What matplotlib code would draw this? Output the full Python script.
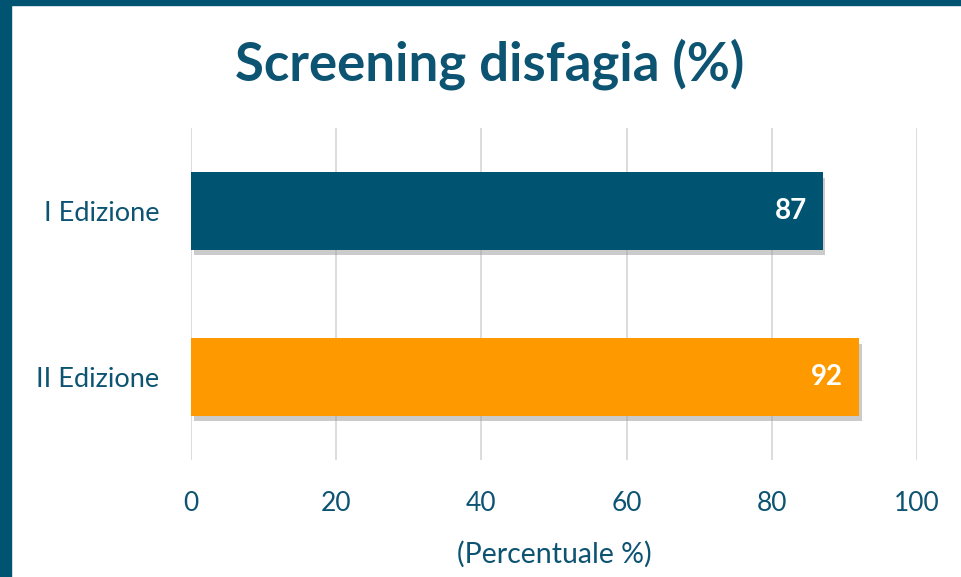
import matplotlib.pyplot as plt
import matplotlib.patheffects as pe

# data
categories = ['I Edizione', 'II Edizione']
values = [87, 92]
bar_colors = ['#005472', '#FF9900']
xticks = [0, 20, 40, 60, 80, 100]

txt = '#0d5473'
plt.rcParams['font.family'] = ['Lato', 'DejaVu Sans']

fig = plt.figure(figsize=(9.61, 5.77), dpi=100)
ax = fig.add_axes([0.1988, 0.2028, 0.7554, 0.5754])

pos = list(range(len(categories)))
shadow = [pe.SimplePatchShadow(offset=(2, -4), shadow_rgbFace='#999999', alpha=0.5), pe.Normal()]
bars = ax.barh(pos, values, height=0.465, color=bar_colors, path_effects=shadow, zorder=3)

for b, v in zip(bars, values):
    ax.text(b.get_width() - 2.2, b.get_y() + b.get_height() / 2, str(v),
            ha='right', va='center', color='white', fontsize=20, fontweight='bold', zorder=4)

ax.set_xlim(0, 100)
ax.set_ylim(1.5, -0.5)
ax.set_xticks(xticks)
ax.set_yticks(pos)
ax.set_yticklabels(categories)
ax.tick_params(axis='both', length=0, labelcolor=txt)
ax.tick_params(axis='x', pad=22, labelsize=19)
ax.tick_params(axis='y', pad=23, labelsize=19.5)
ax.grid(axis='x', color='#d9d9d9', linewidth=1.3, zorder=0)
for s in ax.spines.values():
    s.set_visible(False)

ax.set_xlabel('(Percentuale %)', fontsize=20.5, color=txt, labelpad=18)
fig.text(0.51, 0.888, 'Screening disfagia (%)', ha='center', va='center',
         fontsize=38, fontweight='bold', color='#0d5473')

# frame bands top and left
fig.patches.append(plt.Rectangle((0, 0.991), 1, 0.009, transform=fig.transFigure, color='#005472'))
fig.patches.append(plt.Rectangle((0, 0), 0.0115, 1, transform=fig.transFigure, color='#005472'))

fig.savefig('out.png', dpi=100)
